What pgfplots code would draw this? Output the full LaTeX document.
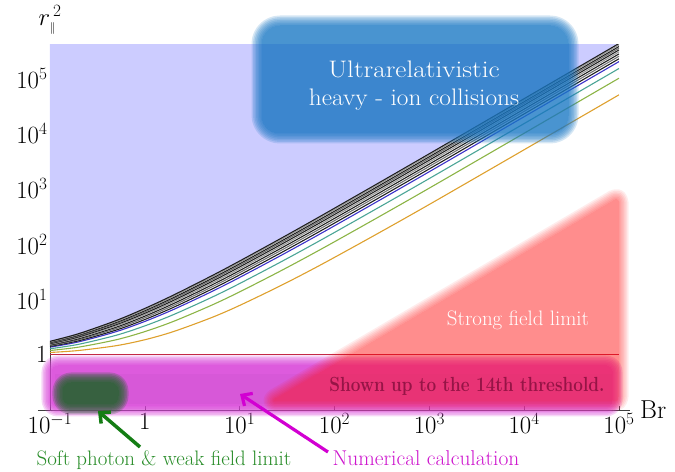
\documentclass[border=0pt]{standalone}
\usepackage{pgfplots}
\pgfplotsset{compat=1.18}
\usetikzlibrary{arrows.meta}
\definecolor{lav}{RGB}{204,204,255}
\definecolor{corange}{RGB}{222,160,45}
\definecolor{cgreen}{RGB}{140,180,70}
\definecolor{cteal}{RGB}{75,165,150}
\definecolor{cblue}{RGB}{60,50,200}
\definecolor{cblk}{RGB}{30,30,30}
\definecolor{cgr1}{RGB}{115,115,115}
\definecolor{cgr2}{RGB}{155,155,155}
\definecolor{crim}{RGB}{195,40,70}
\definecolor{boxblue}{RGB}{27,120,196}
\definecolor{band}{RGB}{215,62,215}
\definecolor{band2}{RGB}{170,70,180}
\definecolor{tri}{RGB}{255,15,15}
\definecolor{blob}{RGB}{40,100,50}
\definecolor{txtgreen}{RGB}{40,140,40}
\definecolor{arrgreen}{RGB}{20,125,20}
\definecolor{txtmag}{RGB}{205,20,205}
\definecolor{arrmag}{RGB}{210,0,210}
\definecolor{shown}{RGB}{150,20,70}
\newcommand\blur[3]{%
  \foreach \w in {0,3,6,9,12,15,18,21}{%
    \begin{scope}[transparency group, opacity=#2]
      \filldraw[#1, line width=\w bp, line join=round] #3;
    \end{scope}}}
\begin{document}
\begin{tikzpicture}
\path[use as bounding box] (0,0) rectangle (675bp,472bp);
\begin{axis}[at={(50bp,62bp)}, anchor=south west, scale only axis,
  width=569bp, height=365bp,
  xmode=log, ymode=log, xmin=0.1, xmax=1e5, ymin=0.1, ymax=4e5,
  axis x line=bottom, axis y line=left,
  axis line style={-, line width=0.8bp, black!75},
  x axis line style={shorten <=-12bp, shorten >=-11bp},
  tick align=inside, major tick length=4bp,
  xminorticks=false, yminorticks=false,
  every tick/.style={black!75, line width=0.6bp},
  xtick={0.1,1,10,100,1000,10000,100000},
  xticklabels={$10^{-1}$,$1$,$10^{1}$,$10^{2}$,$10^{3}$,$10^{4}$,$10^{5}$},
  ytick={1,10,100,1000,10000,100000},
  yticklabels={$1$,$10^{1}$,$10^{2}$,$10^{3}$,$10^{4}$,$10^{5}$},
  tick label style={font=\fontsize{25}{27}\selectfont},
  yticklabel style={xshift=1bp},
  every axis plot/.append style={line width=1.1bp},
]
% region above the highest curve
\addplot[draw=none, fill=lav] coordinates {(0.1,1.7466)(0.2,2.3988)(0.5,4.1611)(1,6.8713)(2,11.958)(5,26.387)(10,49.538)(30,139.30)(100,446.12)(1000,4315.7)(100000,425652)(100000,1000000)(0.1,1000000)} -- cycle;
% thresholds
\addplot[corange, smooth] coordinates {(0.1,1.0977)(0.2,1.1916)(0.5,1.4571)(1,1.8660)(2,2.6180)(5,4.6583)(10,7.7913)(30,19.405)(100,57.589)(1000,522.87)(100000,50224)};
\addplot[cgreen, smooth] coordinates {(0.1,1.1916)(0.2,1.3708)(0.5,1.8660)(1,2.6180)(2,4)(5,7.7913)(10,13.702)(30,36)(100,110.51)(1000,1032.1)(100000,100317)};
\addplot[cteal, smooth] coordinates {(0.1,1.2825)(0.2,1.5416)(0.5,2.25)(1,3.3229)(2,5.3028)(5,10.784)(10,19.405)(30,52.227)(100,162.76)(1000,1539.2)(100000,150388)};
\addplot[cblue, smooth] coordinates {(0.1,1.3708)(0.2,1.7062)(0.5,2.6180)(1,4)(2,6.5616)(5,13.702)(10,25)(30,68.262)(100,214.65)(1000,2045.2)(100000,200448)};
\addplot[cblk, smooth] coordinates {(0.1,1.4142)(0.2,1.7867)(0.5,2.7976)(1,4.3311)(2,7.1795)(5,15.141)(10,27.770)(30,76.231)(100,240.51)(1000,2297.9)(100000,225475)};
\addplot[cgr1, smooth] coordinates {(0.1,1.4571)(0.2,1.8660)(0.5,2.9748)(1,4.6583)(2,7.7913)(5,16.571)(10,30.525)(30,84.175)(100,266.32)(1000,2550.5)(100000,250501)};
\addplot[cblk, smooth] coordinates {(0.1,1.4996)(0.2,1.9444)(0.5,3.1498)(1,4.9821)(2,8.3979)(5,17.992)(10,33.268)(30,92.097)(100,292.09)(1000,2802.9)(100000,275525)};
\addplot[cgr2, smooth] coordinates {(0.1,1.5416)(0.2,2.0220)(0.5,3.3229)(1,5.3028)(2,9)(5,19.405)(10,36)(30,100)(100,317.83)(1000,3055.3)(100000,300548)};
\addplot[cblk, smooth] coordinates {(0.1,1.5833)(0.2,2.0987)(0.5,3.4943)(1,5.6208)(2,9.5981)(5,20.812)(10,38.723)(30,107.89)(100,343.54)(1000,3307.5)(100000,325571)};
\addplot[cgr1, smooth] coordinates {(0.1,1.6246)(0.2,2.1747)(0.5,3.6642)(1,5.9365)(2,10.193)(5,22.213)(10,41.437)(30,115.76)(100,369.22)(1000,3559.7)(100000,350592)};
\addplot[cblk, smooth] coordinates {(0.1,1.6656)(0.2,2.25)(0.5,3.8327)(1,6.25)(2,10.784)(5,23.609)(10,44.144)(30,123.62)(100,394.87)(1000,3811.7)(100000,375613)};
\addplot[cgr2, smooth] coordinates {(0.1,1.7062)(0.2,2.3247)(0.5,4)(1,6.5616)(2,11.372)(5,25)(10,46.844)(30,131.47)(100,420.51)(1000,4063.8)(100000,400633)};
\addplot[cblk, smooth] coordinates {(0.1,1.7466)(0.2,2.3988)(0.5,4.1611)(1,6.8713)(2,11.958)(5,26.387)(10,49.538)(30,139.30)(100,446.12)(1000,4315.7)(100000,425652)};
% first threshold
\addplot[crim, line width=1.2bp] coordinates {(0.1,1)(100000,1)};
\end{axis}
\begin{scope}[x=1bp, y=-1bp, yshift=472bp]
  % numerical calculation band
  \blur{band}{0.21}{(52,366) [rounded corners=6bp] -- (612,366) -- (612,406) -- (52,406) -- cycle}
  \fill[band2, opacity=0.10] (55,374) rectangle (612,404);
  % soft photon blob
  \blur{blob}{0.25}{(63,383) [rounded corners=8bp] -- (118,383) -- (118,404) -- (63,404) -- cycle}
  % strong field triangle
  \blur{tri}{0.08}{(272,401) [rounded corners=4bp] -- (618,198) -- (618,401) -- cycle}
  % heavy ion box
  \blur{boxblue}{0.18}{(262,26) [rounded corners=18bp] -- (568,26) -- (568,133) -- (262,133) -- cycle}
  % texts
  \node[white, anchor=base] at (414,78) {\scalebox{1.14}[1]{\fontsize{24}{28}\selectfont Ultrarelativistic}};
  \node[white, anchor=base] at (414,106) {\scalebox{1.06}[1]{\fontsize{24}{28}\selectfont heavy - ion collisions}};
  \node[white, anchor=base] at (518,326) {\fontsize{21}{24}\selectfont Strong field limit};
  \node[shown, anchor=base] at (467,392) {\scalebox{0.84}[1]{\fontsize{20.5}{23}\selectfont\bfseries Shown up to the 14th threshold.}};
  \node[txtgreen, anchor=base] at (164,466) {\fontsize{21}{24}\selectfont Soft photon \& weak field limit};
  \node[txtmag, anchor=base] at (426,466) {\fontsize{21.5}{24}\selectfont Numerical calculation};
  % arrows
  \draw[arrgreen, line width=3.5bp, -{Straight Barb[length=8bp,width=15bp]}] (140,447) -- (98,411);
  \draw[arrmag, line width=3.2bp, -{Straight Barb[length=8bp,width=15bp]}] (328,452) -- (240,394);
  % axis labels
  \node[anchor=base west, inner sep=0pt] at (640,419) {\fontsize{26}{28}\selectfont Br};
  \node[anchor=center, inner sep=0pt] at (50,20) {\fontsize{25}{27}\selectfont $r_{\scriptscriptstyle\parallel}^{\,2}$};
\end{scope}
\end{tikzpicture}
\end{document}
